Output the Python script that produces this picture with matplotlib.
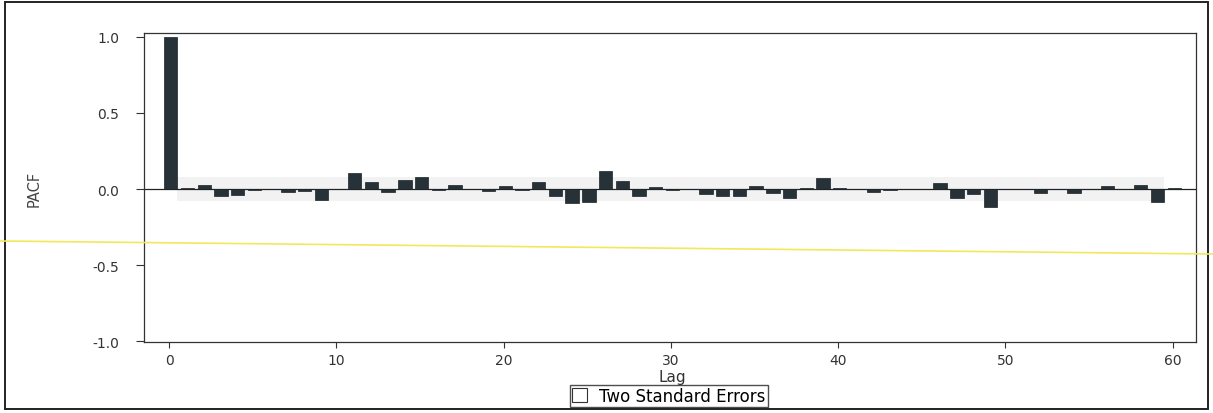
import numpy as np
import matplotlib
matplotlib.use("Agg")
import matplotlib.pyplot as plt
from matplotlib.patches import Patch, Rectangle
from matplotlib.lines import Line2D

plt.rcParams['font.family'] = ['DejaVu Sans']

# partial autocorrelations, lags 0..60
lags = np.arange(0, 61)
pacf = [1.000, 0.005, 0.025, -0.045, -0.040, -0.005, 0.000, -0.022, -0.013, -0.070,
        0.000, 0.103, 0.048, -0.018, 0.061, 0.077, -0.005, 0.029, 0.000, -0.010,
        0.022, -0.004, 0.044, -0.048, -0.090, -0.086, 0.116, 0.055, -0.044, 0.013,
        -0.008, 0.000, -0.030, -0.044, -0.044, 0.018, -0.026, -0.061, 0.009, 0.072,
        0.004, 0.000, -0.020, -0.005, 0.000, 0.000, 0.040, -0.061, -0.035, -0.115,
        -0.003, 0.000, -0.028, 0.000, -0.028, 0.003, 0.018, 0.003, 0.026, -0.083,
        0.005]
two_se = 0.078
band_lags = np.arange(1, 60)

fig = plt.figure(figsize=(12.13, 4.14), dpi=100)
ax = fig.add_axes([144/1213, 1-343/414, (1196-144)/1213, (343-34)/414])

# two standard error band
ax.bar(band_lags, 2*two_se, bottom=-two_se, width=1.0, color='#f2f2f2',
       edgecolor='none', zorder=1)

ax.bar(lags + 0.1, pacf, width=0.8, color='#263238', edgecolor='#1c2326',
       linewidth=0.5, zorder=3)
ax.axhline(0, color='#222222', linewidth=0.9, zorder=2)

ax.set_xlim(-1.5, 61.4)
ax.set_ylim(-1.005, 1.025)
ax.set_xticks(range(0, 61, 10))
ax.set_yticks([-1.0, -0.5, 0.0, 0.5, 1.0])
ax.set_yticklabels(['-1.0', '-0.5', '0.0', '0.5', '1.0'])
ax.tick_params(axis='both', direction='out', labelsize=10, colors='#333333',
               length=6, width=0.8)
ax.tick_params(axis='y', pad=12)
ax.tick_params(axis='x', length=4, pad=4)
for sp in ax.spines.values():
    sp.set_color('#333333')
    sp.set_linewidth(0.9)

ax.set_ylabel('PACF', fontsize=10.5, color='#444444', labelpad=36)
fig.text(672/1213, 1-378/414, 'Lag', ha='center', va='center',
         fontsize=11, color='#333333')

fig.legend(handles=[Patch(facecolor='white', edgecolor='#333333', linewidth=0.8,
                          label='Two Standard Errors')],
           loc='center', bbox_to_anchor=(669/1213, 1-397/414), fontsize=12,
           frameon=True, fancybox=False, edgecolor='#222222', handlelength=0.9,
           handleheight=0.9, handletextpad=0.7, borderpad=0.12, borderaxespad=0)

# page border and highlighter stroke
fig.add_artist(Rectangle((5/1213, 1-410/414), 1203/1213, 407/414,
                         transform=fig.transFigure, fill=False,
                         edgecolor='#222222', linewidth=1.4))
fig.add_artist(Line2D([0, 1], [1-242/414, 1-255/414], transform=fig.transFigure,
                      color='#f2e85a', linewidth=1.2, zorder=10))

fig.savefig('out.png', dpi=100)
